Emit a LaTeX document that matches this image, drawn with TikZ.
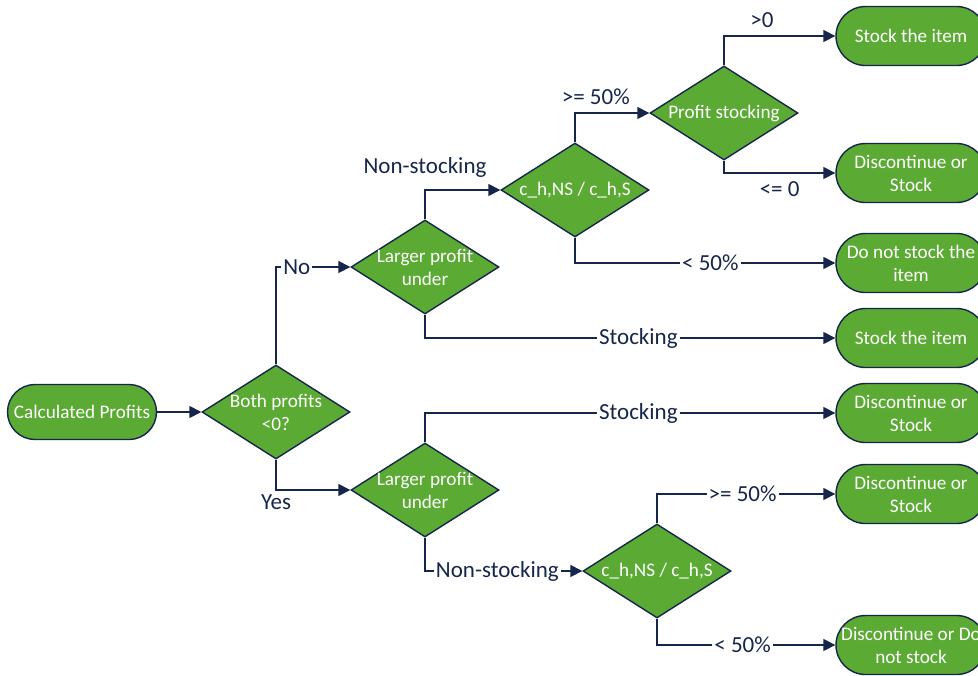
\documentclass[tikz,border=0pt]{standalone}
\usepackage{fontspec}
\setmainfont{Carlito}
\usetikzlibrary{shapes.geometric,arrows.meta}
\definecolor{gfill}{RGB}{91,170,52}
\definecolor{navy}{RGB}{22,38,74}
\begin{document}
\begin{tikzpicture}[x=0.5pt,y=-0.5pt,
 term/.style={draw=navy,line width=0.7pt,fill=gfill,rounded corners=14.75pt,minimum width=75pt,minimum height=29.5pt,inner sep=0pt,text=white,font=\fontsize{9.6}{11.5}\selectfont,align=center},
 dia/.style={draw=navy,line width=0.7pt,fill=gfill,shape=diamond,minimum width=74pt,minimum height=47pt,inner sep=0pt},
 dtext/.style={text=white,font=\fontsize{9.6}{11.5}\selectfont,align=center,inner sep=0pt},
 conn/.style={draw=navy,line width=0.8pt,-{Triangle[length=6pt,width=6pt]}},
 lab/.style={text=navy,font=\fontsize{11.5}{13}\selectfont,fill=white,inner sep=1pt},
 lab0/.style={text=navy,font=\fontsize{11.5}{13}\selectfont,inner sep=1pt}]
\useasboundingbox (0,0) rectangle (978,675);
% terminals
\node[term,minimum width=74.5pt,minimum height=27.5pt,rounded corners=13.75pt] (calc) at (82,412) {Calculated Profits};
\node[term] (t1) at (911,36) {Stock the item};
\node[term] (t2) at (911,173) {Discontinue or\\Stock};
\node[term] (t3) at (911,263) {Do not stock the\\item};
\node[term] (t4) at (911,338) {Stock the item};
\node[term] (t5) at (911,413) {Discontinue or\\Stock};
\node[term] (t6) at (911,494) {Discontinue or\\Stock};
\node[term] (t7) at (911,645) {Discontinue or Do\\not stock};
% decisions
\node[dia,label={[dtext]center:{Both profits\\<0?}}] (both) at (276,412) {};
\node[dia,label={[dtext]center:{Larger profit\\under}}] (lg1) at (425,267) {};
\node[dia,label={[dtext]center:{Larger profit\\under}}] (lg2) at (425,490) {};
\node[dia,label={[dtext]center:{c\_h,NS / c\_h,S}}] (ch1) at (575,190) {};
\node[dia,label={[dtext]center:{Profit stocking}}] (ps) at (724,113) {};
\node[dia,label={[dtext]center:{c\_h,NS / c\_h,S}}] (ch2) at (657,571) {};
% connectors
\draw[conn] (calc.east) -- (both.west);
\draw[conn] (both.north) |- node[lab,pos=0.64]{No} (lg1.west);
\draw[conn] (both.south) |- node[lab0,pos=0.5,below=1pt]{Yes} (lg2.west);
\draw[conn] (lg1.north) |- node[lab0,pos=0.5,above=5pt]{Non-stocking} (ch1.west);
\draw[conn] (lg1.south) |- node[lab,pos=0.76]{Stocking} (t4.west);
\draw[conn] (ch1.north) |- node[lab0,pos=0.64,above=3pt]{>= 50\%} (ps.west);
\draw[conn] (ch1.south) |- node[lab,pos=0.76]{< 50\%} (t3.west);
\draw[conn] (ps.north) |- node[lab0,pos=0.67,above=3pt]{>0} (t1.west);
\draw[conn] (ps.south) |- node[lab0,pos=0.75,below=3pt]{<= 0} (t2.west);
\draw[conn] (lg2.north) |- node[lab,pos=0.76]{Stocking} (t5.west);
\draw[conn] (lg2.south) |- node[lab,pos=0.73]{Non-stocking} (ch2.west);
\draw[conn] (ch2.north) |- node[lab,pos=0.74]{>= 50\%} (t6.west);
\draw[conn] (ch2.south) |- node[lab,pos=0.74]{< 50\%} (t7.west);
\end{tikzpicture}
\end{document}
